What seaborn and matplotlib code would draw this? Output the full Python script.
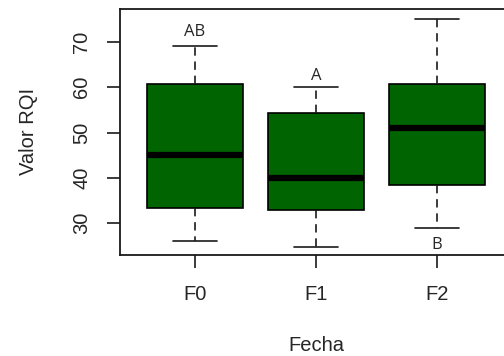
import pandas as pd
import matplotlib
matplotlib.use("Agg")
import matplotlib.pyplot as plt
import seaborn as sns

# five-number summaries (min, Q1, median, Q3, max)
fechas = ["F0", "F1", "F2"]
valores_f0 = [26.1, 33.4, 45.0, 60.7, 69.1]
valores_f1 = [24.7, 32.9, 40.0, 54.3, 60.1]
valores_f2 = [28.9, 38.4, 51.0, 60.8, 75.1]

# significance letters
letras = ["AB", "A", "B"]
letras_y = [72.2, 62.5, 25.2]

df = pd.DataFrame({
    "Fecha": [f for f, v in zip(fechas, [valores_f0, valores_f1, valores_f2]) for _ in v],
    "Valor RQI": valores_f0 + valores_f1 + valores_f2,
})

sns.set_style("white")
plt.rcParams["font.family"] = ["Liberation Sans", "DejaVu Sans"]

texto = "#262626"
linea = "#1a1a1a"

fig = plt.figure(figsize=(5.04, 3.56), dpi=100)
ax = fig.add_axes([0.238, 0.284, 0.778, 0.691])

sns.boxplot(
    data=df, x="Fecha", y="Valor RQI", order=fechas, ax=ax,
    color="#006400", saturation=1, width=0.8, linecolor="black", linewidth=1.2,
    whis=1.5, capwidths=0.37,
    whiskerprops=dict(linestyle=(0, (5, 3.5)), color=linea),
    capprops=dict(color=linea),
    medianprops=dict(linewidth=4.5, color="black"),
)

for i, (txt, yy) in enumerate(zip(letras, letras_y)):
    ax.text(i, yy, txt, ha="center", va="center", fontsize=12,
            family=["Open Sans", "DejaVu Sans"], color=texto)

ax.set_xlim(-0.62, 2.62)
ax.set_ylim(23.0, 77.3)
ax.set_yticks([30, 40, 50, 60, 70])
ax.tick_params(axis="y", labelrotation=90, length=9.5, width=1.2, pad=11,
               labelsize=14.5, labelcolor=texto, color=linea, left=True)
ax.tick_params(axis="x", length=9, width=1.2, pad=13,
               labelsize=14.5, labelcolor=texto, color=linea, bottom=True)
for lab in ax.get_yticklabels():
    lab.set_va("center")

for sp in ax.spines.values():
    sp.set_visible(True)
    sp.set_color(linea)
    sp.set_linewidth(1.3)

ax.set_xlabel("Fecha", fontsize=14.5, color=texto, labelpad=23)
ax.set_ylabel("Valor RQI", fontsize=14.5, color=texto, labelpad=25)

fig.savefig("out.png", dpi=100)
